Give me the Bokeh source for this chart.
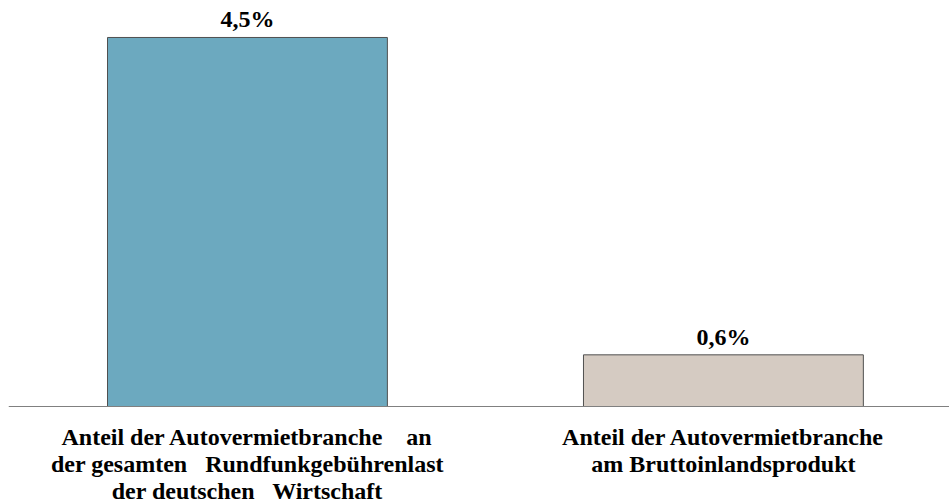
from bokeh.plotting import figure
from bokeh.models import Span, Range1d, ColumnDataSource
from bokeh.core.properties import value
from bokeh.embed import file_html
from bokeh.resources import INLINE

NB = "\u00a0"
# data
categories = [
    "Anteil der Autovermietbranche" + NB * 3 + " an\nder gesamten" + NB * 2 + " Rundfunkgebührenlast\nder deutschen" + NB * 2 + " Wirtschaft",
    "Anteil der Autovermietbranche\nam Bruttoinlandsprodukt",
]
positions = [0, 1]
values = [4.5, 0.63]
value_labels = ["4,5%", "0,6%"]
colors = ["#6CA9BF", "#D5CBC2"]

src = ColumnDataSource(dict(x=positions, top=values, lab=value_labels,
                            color=colors, cat=categories, zero=[0, 0]))

p = figure(width=949, height=504, output_backend="svg", toolbar_location=None,
           x_range=Range1d(-0.502, 1.475), y_range=Range1d(-1.195, 4.951),
           min_border_left=8, min_border_right=0, min_border_top=0, min_border_bottom=0)
p.xaxis.visible = False
p.yaxis.visible = False
p.xgrid.visible = False
p.ygrid.visible = False
p.outline_line_color = None
p.background_fill_color = "white"
p.border_fill_color = "white"

p.vbar(x="x", top="top", bottom=0, width=0.588, source=src, fill_color="color",
       line_color="#505050", line_width=1)

p.add_layout(Span(location=0, dimension="width", line_color="#808080", line_width=1))

p.text(x="x", y="top", text="lab", source=src, text_align="center",
       text_baseline="alphabetic", y_offset=-18, text_font=value("Liberation Serif"),
       text_font_style="bold", text_font_size="24px", text_color="black")

p.text(x="x", y="zero", text="cat", source=src, text_align="center",
       text_baseline="top", y_offset=17, text_font=value("Liberation Serif"),
       text_font_style="bold", text_font_size="24px", text_color="black",
       text_line_height=1.04)

open("out.html", "w").write(file_html(p, INLINE))
